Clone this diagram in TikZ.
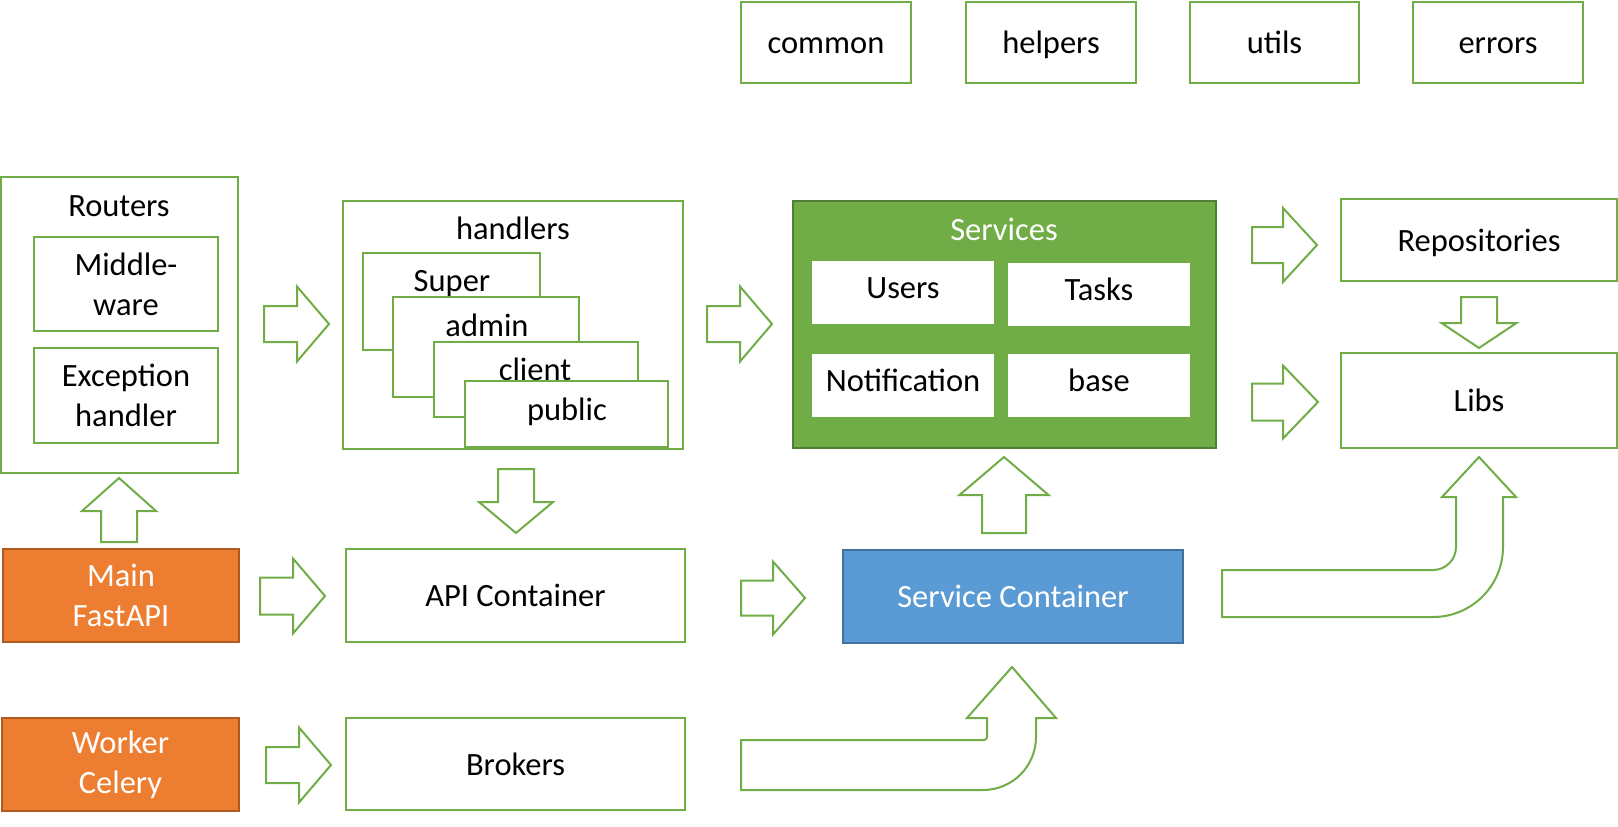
\documentclass[tikz,border=0pt]{standalone}
\usepackage{fontspec}
\setmainfont{Carlito}
\definecolor{gr}{HTML}{70AD47}
\definecolor{grd}{HTML}{507E32}
\definecolor{org}{HTML}{ED7D31}
\definecolor{orgd}{HTML}{AE5A21}
\definecolor{blu}{HTML}{5B9BD5}
\definecolor{blud}{HTML}{41719C}
% box from corners: style, x1, y1, x2, y2, name
\newcommand{\bx}[6]{\node[#1, minimum width={#4-#2}, minimum height={#5-#3}] (#6) at ({(#2+#4)/2},{(#3+#5)/2})}
% right block arrow: x tail, x head base, x tip, y centre, half head, half shaft
\newcommand{\rarr}[6]{\draw[blk] (#1,{#4-#6}) -- (#2,{#4-#6}) -- (#2,{#4-#5}) -- (#3,#4) -- (#2,{#4+#5}) -- (#2,{#4+#6}) -- (#1,{#4+#6}) -- cycle;}
% vertical block arrow: x centre, y tail, y head base, y tip, half head, half shaft
\newcommand{\varr}[6]{\draw[blk] ({#1-#6},#2) -- ({#1-#6},#3) -- ({#1-#5},#3) -- (#1,#4) -- ({#1+#5},#3) -- ({#1+#6},#3) -- ({#1+#6},#2) -- cycle;}
\begin{document}
\begin{tikzpicture}[x=1pt,y=-1pt,
  every node/.style={font=\fontsize{32.5}{40}\selectfont, inner sep=0pt, outer sep=0pt},
  box/.style={draw=gr, line width=2.2pt, fill=white, text height=22pt, text depth=0pt},
  mbox/.style={draw=gr, line width=2.2pt, fill=white, align=center},
  obox/.style={draw=orgd, line width=1.6pt, fill=org, text=white, align=center},
  sbox/.style={draw=blud, line width=1.6pt, fill=blu, text=white, text height=22pt, text depth=0pt},
  gbox/.style={draw=grd, line width=1.6pt, fill=gr},
  ibox/.style={fill=white, draw=none, text height=22pt, text depth=11pt},
  lbl/.style={anchor=base},
  blk/.style={draw=gr, line width=2pt, fill=white, line join=miter}]
\useasboundingbox (0,0) rectangle (1618,827);

% top row
\bx{box}{741}{2}{911}{83}{common} {common};
\bx{box}{966}{2}{1136}{83}{helpers} {helpers};
\bx{box}{1190}{2}{1359}{83}{utils} {utils};
\bx{box}{1413}{2}{1583}{83}{errors} {errors};

% Routers
\bx{box}{1.2}{177}{238}{473}{routers} {};
\node[lbl] (routersT) at (119,216.5) {Routers};
\bx{mbox}{34}{237}{218}{331}{middleware} {Middle-\\ware};
\bx{mbox}{34}{348}{218}{443}{exception} {Exception\\handler};

% handlers
\bx{box}{343}{201}{683}{449}{handlers} {};
\node[lbl] (handlersT) at (513,239) {handlers};
\bx{box}{363}{253}{540}{350}{super} {};
\node[lbl] (superT) at (452,291.5) {Super};
\bx{box}{393}{297}{579}{397}{admin} {};
\node[lbl] (adminT) at (487,336.5) {admin};
\bx{box}{434}{342}{638}{417}{client} {};
\node[lbl] (clientT) at (535,380) {client};
\bx{box}{465}{381}{668}{447}{public} {};
\node[lbl] (publicT) at (567,420) {public};

% Services
\bx{gbox}{793}{201}{1216}{448}{services} {};
\node[lbl, text=white] (servicesT) at (1004,240) {Services};
\bx{ibox}{812}{261}{994}{324}{users} {Users};
\bx{ibox}{1008}{263}{1190}{326}{tasks} {Tasks};
\bx{ibox}{812}{354}{994}{417}{notification} {Notification};
\bx{ibox}{1008}{354}{1190}{417}{base} {base};

% right column
\bx{box}{1341}{199}{1617}{281}{repos} {Repositories};
\bx{box}{1341}{353}{1617}{448}{libs} {Libs};

% middle row
\bx{obox}{3}{549}{239}{642}{main} {Main\\FastAPI};
\bx{box}{346}{549}{685}{642}{api} {API Container};
\bx{sbox}{843}{550}{1183}{643}{svc} {Service Container};

% bottom row
\bx{obox}{2}{718}{239}{811}{worker} {Worker\\Celery};
\bx{box}{346}{718}{685}{810}{brokers} {Brokers};

% straight block arrows
\rarr{264}{297}{329}{324}{37.5}{18}
\rarr{260}{293}{325}{596}{37.5}{18.5}
\rarr{266}{299}{331}{765}{37.5}{18}
\rarr{707}{740}{772}{324}{37.5}{18}
\rarr{741}{773}{805}{598}{36.5}{17.5}
\rarr{1252}{1283}{1317}{245}{37}{18}
\rarr{1252}{1283}{1318}{402}{36.5}{18.5}
\varr{119}{542}{511}{478}{37}{18}
\varr{1004}{533}{495}{457}{44.5}{22}
\varr{516}{469}{502}{533}{37}{18}
\varr{1479}{297}{323}{348}{37.5}{18}

% bent block arrow: Service Container -> Libs
\draw[blk] (1222,570) -- (1433,570) .. controls (1445.7,570) and (1456,559.7) .. (1456,547)
  -- (1456,497) -- (1442,497) -- (1479,457) -- (1516,497) -- (1503,497) -- (1503,547)
  .. controls (1503,585.7) and (1471.7,617) .. (1433,617) -- (1222,617) -- cycle;

% bent block arrow: Brokers -> Service Container
\draw[blk] (741,740) -- (984,740) .. controls (985.7,740) and (987,738.7) .. (987,737)
  -- (987,718) -- (967,718) -- (1012,667) -- (1056,718) -- (1036,718) -- (1036,737)
  .. controls (1036,766.3) and (1012.3,790) .. (983,790) -- (741,790) -- cycle;
\end{tikzpicture}
\end{document}
